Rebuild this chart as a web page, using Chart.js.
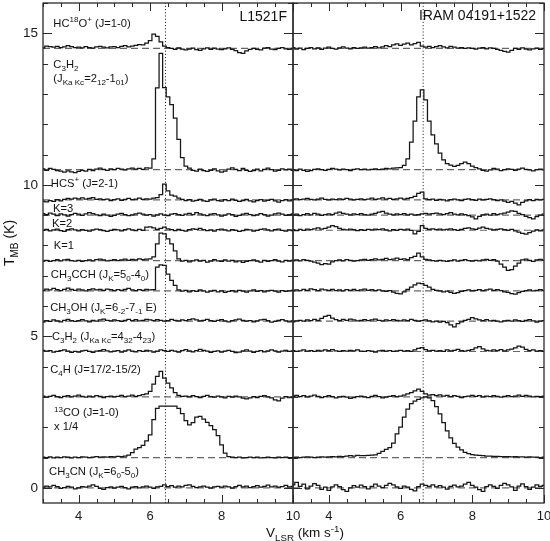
<!DOCTYPE html>
<html>
<head>
<meta charset="utf-8">
<script src="https://cdn.jsdelivr.net/npm/chart.js@4.4.1/dist/chart.umd.min.js"></script>
<style>
  html, body { margin: 0; padding: 0; background: #fff; }
  #wrap { position: relative; width: 550px; height: 541px; overflow: hidden; }
  canvas { position: absolute; top: 0; }
  #left { left: 0; }
  #right { left: 288px; }
</style>
</head>
<body>
<div id="wrap">
  <canvas id="left" width="360" height="541"></canvas>
  <canvas id="right" width="262" height="541"></canvas>
</div>
<script>
// channel velocities, km/s
const VEL = [
  3.0, 3.1, 3.2, 3.3, 3.4, 3.5, 3.6, 3.7, 3.8, 3.9,
  4.0, 4.1, 4.2, 4.3, 4.4, 4.5, 4.6, 4.7, 4.8, 4.9,
  5.0, 5.1, 5.2, 5.3, 5.4, 5.5, 5.6, 5.7, 5.8, 5.9,
  6.0, 6.1, 6.2, 6.3, 6.4, 6.5, 6.6, 6.7, 6.8, 6.9,
  7.0, 7.1, 7.2, 7.3, 7.4, 7.5, 7.6, 7.7, 7.8, 7.9,
  8.0, 8.1, 8.2, 8.3, 8.4, 8.5, 8.6, 8.7, 8.8, 8.9,
  9.0, 9.1, 9.2, 9.3, 9.4, 9.5, 9.6, 9.7, 9.8, 9.9,
  10.0
];

const LINES = ['HC18O+', 'C3H2 2-1', 'HCS+', 'CH3CCH K=3', 'CH3CCH K=2', 'CH3CCH K=1',
  'CH3CCH K=0', 'CH3OH', 'C3H2 4-4', 'C4H', '13CO x1/4', 'CH3CN'];
// baseline each spectrum is shifted to (K)
const OFFSETS = [14.5, 10.5, 9.5, 9.0, 8.5, 7.5, 6.5, 5.5, 4.5, 3.0, 1.0, 0];
const SOURCES = ['L1521F', 'IRAM 04191+1522'];
const VSYS = [6.43, 6.63];
const X_LABELED = [4, 6, 8, 10];
const Y_LABELED = [0, 5, 10, 15];

// ---- L1521F (T_MB above baseline, K) ----
const hc18o_L = [
  0.02, 0.08, 0.06, 0.04, 0.07, 0.03, 0.05, 0.09, 0.06, 0.03,
  0.04, 0.02, 0.06, 0.03, 0.01, 0.05, 0.07, 0.04, 0.02, 0.05,
  0.06, 0.03, 0.07, 0.09, 0.05, 0.08, 0.10, 0.13, 0.12, 0.18,
  0.26, 0.47, 0.40, 0.22, 0.08, 0.03, 0.00, -0.03, 0.02, -0.02,
  -0.05, -0.02, 0.01, -0.04, -0.06, -0.01, 0.02, -0.03, 0.01, -0.02,
  -0.04, -0.01, 0.02, -0.03, -0.07, -0.14, -0.16, -0.08, -0.03, 0.00,
  -0.03, -0.05, 0.01, 0.03, -0.02, -0.04, 0.00, 0.03, -0.01, -0.03,
  0.00];
const c3h2a_L = [
  0.03, -0.02, 0.04, 0.01, -0.03, -0.05, -0.08, -0.04, -0.07, -0.10,
  -0.06, -0.02, -0.05, 0.01, -0.03, 0.02, 0.05, 0.01, -0.02, 0.03,
  0.00, 0.04, 0.02, -0.01, 0.03, 0.05, 0.02, 0.04, 0.01, 0.06,
  0.05, 0.36, 2.70, 3.84, 2.71, 2.40, 2.15, 1.70, 1.00, 0.40,
  0.12, 0.05, -0.02, -0.05, 0.02, -0.03, -0.06, -0.02, 0.03, -0.04,
  -0.08, -0.05, 0.02, 0.06, 0.01, -0.03, 0.04, -0.02, -0.06, -0.03,
  0.02, -0.04, 0.01, 0.05, 0.00, -0.05, -0.02, 0.03, -0.01, 0.02,
  -0.02];
const hcs_L = [
  -0.04, -0.06, -0.02, -0.05, 0.01, -0.03, 0.02, 0.05, 0.03, 0.06,
  0.04, 0.07, 0.03, 0.05, 0.08, 0.02, 0.04, 0.01, 0.03, -0.02,
  0.01, 0.04, -0.01, 0.02, 0.05, 0.01, 0.03, 0.06, 0.02, 0.04,
  0.03, 0.06, 0.08, 0.18, 0.52, 0.30, 0.16, 0.13, 0.06, 0.02,
  -0.02, 0.01, -0.04, -0.01, 0.02, -0.03, -0.05, 0.00, 0.03, -0.02,
  -0.04, 0.01, -0.02, 0.03, -0.01, -0.05, -0.02, 0.02, -0.03, -0.06,
  -0.02, 0.01, -0.04, -0.01, 0.02, -0.03, -0.07, -0.02, 0.01, -0.03,
  0.00];
const k3_L = [
  0.05, 0.02, 0.07, 0.03, -0.02, 0.04, 0.01, -0.03, 0.02, 0.06,
  0.03, -0.01, 0.04, 0.08, 0.05, 0.01, -0.02, 0.03, 0.00, -0.04,
  -0.01, 0.03, 0.06, 0.02, -0.02, 0.01, 0.04, 0.07, 0.03, 0.00,
  0.02, -0.03, 0.01, 0.04, 0.00, -0.02, 0.03, 0.05, 0.02, -0.01,
  0.03, 0.06, 0.02, 0.08, 0.04, 0.01, -0.02, 0.03, 0.05, 0.01,
  -0.03, 0.00, 0.04, 0.02, -0.04, -0.01, 0.03, 0.06, 0.02, -0.02,
  0.01, 0.05, 0.02, -0.03, 0.00, 0.04, 0.07, 0.03, -0.01, 0.02,
  0.04];
const k2_L = [
  0.00, 0.03, -0.02, 0.01, 0.04, -0.01, -0.04, 0.02, 0.05, 0.01,
  -0.02, 0.02, 0.00, -0.03, 0.01, 0.04, 0.02, -0.01, -0.04, 0.00,
  0.03, 0.01, -0.02, 0.02, 0.05, 0.01, -0.01, 0.03, 0.00, 0.10,
  0.11, 0.08, 0.03, 0.06, 0.10, 0.05, 0.02, -0.01, 0.03, 0.00,
  -0.03, 0.02, 0.05, 0.03, 0.06, 0.02, -0.01, 0.01, -0.03, 0.02,
  0.04, 0.01, -0.02, 0.02, 0.00, -0.04, -0.01, 0.03, 0.01, -0.03,
  0.00, 0.03, 0.05, 0.01, -0.02, 0.02, 0.04, 0.00, -0.03, 0.01,
  -0.01];
const k1_L = [
  -0.02, 0.01, -0.03, 0.00, 0.03, -0.01, 0.02, 0.04, 0.00, -0.02,
  0.01, -0.03, 0.00, 0.02, -0.01, 0.03, 0.05, 0.02, -0.01, 0.01,
  0.03, 0.00, 0.02, 0.05, 0.01, 0.04, 0.02, 0.06, 0.03, 0.05,
  0.06, 0.12, 0.55, 0.91, 0.88, 0.72, 0.55, 0.32, 0.06, -0.02,
  0.01, -0.04, -0.01, 0.02, -0.02, 0.01, -0.05, -0.02, 0.03, -0.01,
  -0.03, 0.02, -0.02, 0.01, -0.04, -0.01, -0.06, -0.03, 0.00, 0.02,
  -0.02, -0.05, 0.01, -0.03, 0.00, 0.03, -0.02, -0.04, 0.01, -0.02,
  0.01];
const ch3cch_L = [
  0.02, 0.06, 0.03, 0.08, 0.04, 0.01, 0.05, 0.09, 0.05, 0.02,
  0.06, 0.03, 0.00, 0.04, 0.07, 0.03, 0.05, 0.02, 0.06, 0.04,
  0.01, 0.04, 0.02, 0.05, 0.08, 0.03, 0.01, 0.04, 0.02, 0.05,
  0.03, 0.04, 0.78, 0.86, 0.84, 0.55, 0.35, 0.18, 0.03, -0.01,
  0.02, -0.03, 0.01, -0.02, 0.03, 0.00, -0.04, -0.01, 0.02, -0.03,
  0.00, -0.05, -0.02, 0.01, -0.03, 0.02, -0.01, -0.04, 0.00, 0.03,
  -0.02, 0.01, -0.03, 0.00, 0.02, -0.01, -0.04, 0.01, -0.02, 0.00,
  0.02];
const ch3oh_L = [
  -0.03, 0.02, -0.01, 0.04, 0.01, -0.02, 0.03, 0.06, 0.02, -0.01,
  0.02, 0.05, 0.01, -0.02, 0.03, 0.00, 0.04, 0.07, 0.03, 0.01,
  0.04, 0.02, -0.01, 0.03, 0.06, 0.02, 0.05, 0.01, 0.03, 0.06,
  0.04, 0.02, 0.05, 0.03, 0.00, 0.02, 0.06, 0.03, 0.01, 0.04,
  0.02, 0.05, 0.08, 0.04, 0.01, 0.03, 0.06, 0.02, -0.01, 0.03,
  0.05, 0.01, -0.02, 0.02, 0.04, 0.07, 0.03, 0.00, 0.02, -0.02,
  0.01, 0.04, 0.06, 0.02, -0.03, -0.01, 0.03, 0.05, 0.01, -0.02,
  0.01];
const c3h2b_L = [
  0.04, 0.01, 0.03, -0.02, 0.00, 0.03, 0.05, 0.01, -0.03, 0.00,
  -0.02, 0.02, 0.04, 0.00, -0.03, 0.01, 0.03, 0.06, 0.02, -0.01,
  0.01, 0.03, -0.02, 0.02, 0.05, 0.01, -0.01, 0.03, 0.00, 0.04,
  0.02, -0.02, 0.01, 0.05, 0.03, 0.00, 0.04, 0.01, -0.02, 0.03,
  0.06, 0.02, -0.01, 0.03, 0.07, 0.04, 0.01, -0.03, 0.00, 0.02,
  -0.02, 0.01, 0.04, 0.00, -0.04, -0.02, 0.02, 0.05, 0.01, -0.03,
  0.00, 0.03, -0.01, 0.02, 0.05, 0.02, -0.02, 0.01, 0.04, 0.00,
  0.02];
const c4h_L = [
  0.03, -0.01, 0.02, 0.05, 0.01, -0.02, 0.02, 0.04, 0.00, 0.03,
  0.06, 0.02, -0.01, 0.03, 0.00, 0.04, 0.02, -0.02, 0.01, 0.03,
  0.00, 0.02, 0.05, 0.01, 0.03, 0.06, 0.02, 0.04, 0.08, 0.10,
  0.18, 0.42, 0.68, 0.84, 0.62, 0.46, 0.30, 0.14, 0.05, 0.02,
  0.03, 0.00, 0.04, 0.01, -0.02, 0.02, 0.05, 0.01, -0.01, 0.03,
  0.00, -0.03, 0.02, -0.01, 0.03, 0.00, -0.04, -0.06, -0.03, 0.01,
  -0.02, 0.02, 0.04, 0.00, -0.03, -0.10, -0.13, -0.04, 0.01, -0.02,
  0.00];
const co13_L = [
  0.01, 0.00, 0.02, -0.01, 0.01, 0.00, 0.02, 0.01, -0.01, 0.01,
  0.00, 0.02, 0.01, 0.00, 0.01, 0.03, 0.01, 0.02, 0.01, 0.03,
  0.02, 0.04, 0.03, 0.05, 0.08, 0.16, 0.28, 0.33, 0.40, 0.55,
  0.75, 1.25, 1.62, 1.70, 1.70, 1.70, 1.70, 1.70, 1.62, 1.45,
  1.22, 1.08, 1.15, 1.33, 1.36, 1.27, 1.16, 1.05, 0.92, 0.72,
  0.42, 0.15, 0.03, 0.01, 0.00, 0.01, -0.01, 0.00, 0.01, 0.00,
  0.01, -0.01, 0.00, 0.01, 0.00, -0.01, 0.01, 0.00, 0.01, 0.00,
  0.00];
const ch3cn_L = [
  0.02, 0.06, 0.03, 0.08, 0.04, -0.02, 0.01, 0.05, 0.02, -0.03,
  0.00, 0.04, 0.02, 0.06, 0.10, 0.05, -0.02, -0.05, 0.01, 0.03,
  -0.01, 0.02, 0.05, 0.01, -0.03, 0.02, 0.04, 0.00, 0.03, 0.06,
  0.02, -0.02, 0.03, 0.05, 0.10, 0.04, 0.07, 0.02, 0.06, 0.03,
  0.08, 0.10, 0.05, 0.01, 0.03, 0.06, 0.02, -0.01, 0.03, 0.05,
  0.02, 0.06, 0.03, -0.01, 0.04, 0.08, 0.03, 0.06, 0.01, 0.04,
  0.07, 0.02, 0.05, 0.09, 0.03, 0.06, 0.02, 0.04, 0.08, 0.03,
  0.05];

// ---- IRAM 04191+1522 ----
const hc18o_R = [
  0.03, -0.02, 0.01, -0.04, 0.00, 0.03, -0.01, 0.02, -0.03, 0.01,
  0.04, 0.00, -0.02, 0.02, 0.05, 0.01, -0.01, 0.03, 0.00, 0.02,
  0.04, 0.01, 0.03, 0.06, 0.02, 0.05, 0.09, 0.06, 0.12, 0.15,
  0.10, 0.14, 0.18, 0.12, 0.16, 0.20, 0.08, 0.04, 0.07, 0.03,
  0.06, 0.09, 0.05, 0.02, 0.07, 0.04, 0.01, 0.03, 0.00, 0.02,
  0.00, -0.02, 0.01, 0.03, -0.01, 0.02, 0.00, -0.03, -0.06, -0.10,
  -0.12, -0.06, 0.00, -0.03, 0.02, -0.02, -0.05, -0.01, 0.01, -0.03,
  0.00];
const c3h2a_R = [
  0.00, -0.03, 0.02, -0.02, -0.06, -0.03, 0.01, 0.03, 0.00, -0.02,
  0.01, 0.04, 0.02, -0.01, 0.02, 0.00, -0.03, 0.01, 0.03, 0.00,
  0.02, -0.01, 0.01, 0.03, 0.00, 0.02, 0.04, 0.03, 0.05, 0.06,
  0.07, 0.14, 0.36, 0.91, 1.60, 2.40, 2.63, 2.30, 1.60, 1.15,
  0.85, 0.55, 0.32, 0.20, 0.15, 0.11, 0.14, 0.20, 0.25, 0.20,
  0.12, 0.07, 0.03, -0.02, -0.05, -0.01, 0.04, 0.02, -0.03, 0.00,
  0.03, 0.01, -0.02, 0.02, 0.05, 0.01, -0.01, -0.04, 0.00, 0.02,
  -0.01];
const hcs_R = [
  0.02, 0.04, 0.01, 0.03, 0.05, 0.02, 0.00, 0.03, 0.06, 0.02,
  0.00, 0.03, 0.01, 0.04, 0.02, 0.05, 0.03, 0.00, 0.02, 0.04,
  0.01, 0.03, 0.06, 0.02, 0.04, 0.07, 0.03, 0.05, 0.02, 0.04,
  0.06, 0.03, 0.05, 0.08, 0.12, 0.22, 0.26, 0.04, 0.01, 0.03,
  -0.01, 0.02, 0.00, -0.03, 0.01, 0.03, 0.00, -0.02, 0.02, 0.04,
  0.01, -0.01, 0.03, 0.00, 0.02, 0.04, 0.01, -0.02, 0.00, -0.04,
  -0.08, -0.05, -0.10, -0.16, -0.08, -0.03, 0.01, -0.02, 0.02, 0.00,
  0.02];
const k3_R = [
  0.00, 0.03, -0.02, 0.02, 0.05, 0.01, 0.06, 0.03, -0.01, 0.02,
  0.04, 0.02, 0.07, 0.10, 0.06, 0.03, 0.01, 0.04, 0.02, 0.05,
  0.02, 0.00, 0.03, 0.06, 0.10, 0.12, 0.07, 0.03, 0.01, 0.04,
  0.02, 0.05, 0.01, 0.03, 0.00, 0.02, 0.04, 0.06, 0.03, 0.05,
  0.07, 0.04, 0.02, 0.05, 0.08, 0.03, 0.01, 0.04, 0.02, -0.02,
  -0.06, -0.12, -0.04, 0.01, 0.03, 0.00, 0.05, 0.02, 0.04, 0.07,
  0.10, 0.14, 0.12, 0.06, 0.02, -0.04, -0.08, -0.12, -0.05, 0.00,
  0.03];
const k2_R = [
  0.02, -0.01, 0.03, 0.00, 0.04, 0.02, 0.05, 0.08, 0.04, 0.06,
  0.10, 0.15, 0.12, 0.06, 0.03, 0.01, 0.04, 0.02, -0.01, 0.02,
  0.00, 0.03, 0.01, 0.04, 0.02, 0.05, 0.01, -0.02, 0.02, 0.00,
  0.03, 0.01, 0.04, 0.00, -0.12, -0.04, 0.15, 0.06, 0.03, 0.05,
  0.02, 0.04, 0.01, 0.03, 0.05, 0.02, 0.00, 0.03, 0.06, 0.08,
  0.05, 0.03, 0.07, 0.10, 0.06, 0.04, 0.01, 0.03, 0.05, 0.02,
  0.00, 0.03, -0.02, -0.06, -0.10, -0.13, -0.08, -0.03, 0.01, -0.02,
  0.01];
const k1_R = [
  0.00, 0.02, -0.01, 0.03, 0.01, -0.02, -0.05, -0.08, -0.13, -0.10,
  -0.12, -0.04, 0.00, 0.02, -0.01, 0.03, 0.01, -0.02, 0.00, 0.02,
  0.04, 0.01, 0.03, 0.06, 0.02, 0.04, 0.07, 0.03, 0.05, 0.08,
  0.04, 0.06, 0.03, 0.10, 0.14, 0.25, 0.12, 0.04, 0.02, 0.00,
  -0.02, 0.01, -0.01, -0.03, 0.00, 0.02, -0.02, 0.01, 0.03, 0.00,
  -0.02, 0.01, -0.01, 0.02, 0.04, 0.01, 0.03, -0.02, -0.12, -0.22,
  -0.32, -0.30, -0.18, -0.08, 0.02, 0.05, 0.01, -0.03, 0.02, 0.04,
  0.01];
const ch3cch_R = [
  0.00, 0.03, 0.01, 0.05, 0.02, 0.07, 0.04, 0.01, 0.06, 0.03,
  0.02, 0.05, 0.01, 0.03, 0.00, 0.04, 0.02, 0.05, 0.01, 0.03,
  0.06, 0.02, 0.04, 0.01, 0.03, 0.00, -0.02, 0.01, -0.04, -0.08,
  -0.10, -0.03, 0.05, 0.12, 0.20, 0.26, 0.24, 0.18, 0.12, 0.05,
  0.02, 0.00, -0.03, -0.01, -0.05, -0.08, -0.06, -0.02, 0.01, 0.03,
  0.00, 0.02, 0.04, 0.01, 0.03, 0.06, 0.02, 0.04, 0.01, -0.03,
  -0.05, -0.09, -0.11, -0.06, -0.02, 0.01, 0.03, 0.00, 0.02, 0.04,
  0.01];
const ch3oh_R = [
  -0.02, 0.01, 0.03, 0.00, 0.04, 0.02, 0.06, 0.03, 0.09, 0.16,
  0.19, 0.10, 0.05, 0.02, 0.06, 0.03, 0.07, 0.04, 0.01, 0.03,
  0.05, 0.02, 0.04, 0.07, 0.03, 0.01, 0.04, 0.02, 0.05, 0.03,
  0.01, 0.04, 0.02, 0.06, 0.03, 0.00, 0.02, 0.04, 0.01, -0.02,
  0.00, -0.03, -0.01, -0.05, -0.12, -0.19, -0.08, -0.02, 0.03, 0.06,
  0.12, 0.08, 0.04, 0.02, 0.05, 0.01, 0.03, 0.00, -0.02, 0.01,
  0.03, 0.00, 0.04, 0.02, -0.01, 0.03, 0.05, 0.01, -0.03, 0.00,
  0.02];
const c3h2b_R = [
  0.03, 0.00, 0.02, 0.05, 0.01, 0.03, 0.00, 0.04, 0.02, 0.05,
  0.03, 0.06, 0.02, 0.00, 0.03, 0.01, 0.04, 0.02, 0.05, 0.01,
  0.00, 0.03, 0.01, -0.02, 0.02, 0.04, 0.01, 0.03, 0.00, 0.02,
  0.04, 0.01, 0.03, 0.00, 0.05, 0.10, 0.13, 0.06, 0.02, 0.04,
  0.01, 0.03, 0.00, 0.05, 0.02, 0.04, 0.07, 0.03, 0.01, 0.04,
  0.06, 0.12, 0.16, 0.09, 0.04, 0.02, 0.05, 0.03, 0.06, 0.02,
  0.05, 0.08, 0.12, 0.18, 0.14, 0.07, 0.03, 0.05, 0.01, 0.03,
  0.00];
const c4h_R = [
  0.02, 0.05, 0.01, 0.04, 0.00, 0.03, 0.06, 0.02, -0.02, 0.01,
  0.04, 0.01, -0.03, 0.00, 0.02, -0.01, -0.05, -0.02, 0.01, 0.03,
  0.00, -0.02, 0.02, 0.05, 0.01, -0.03, -0.01, 0.02, 0.04, 0.01,
  0.03, 0.06, 0.10, 0.14, 0.20, 0.26, 0.18, 0.10, 0.06, 0.08,
  0.04, 0.07, 0.03, 0.05, 0.01, 0.04, 0.02, -0.02, 0.01, 0.03,
  0.05, 0.02, 0.04, 0.00, 0.03, 0.01, 0.04, 0.02, -0.01, 0.02,
  0.04, 0.01, 0.03, 0.06, 0.02, 0.05, 0.03, 0.00, 0.02, 0.01,
  0.03];
const co13_R = [
  0.00, 0.01, 0.00, 0.01, 0.02, 0.01, 0.00, 0.01, 0.02, 0.01,
  0.02, 0.03, 0.02, 0.04, 0.03, 0.05, 0.06, 0.05, 0.07, 0.06,
  0.06, 0.07, 0.08, 0.09, 0.14, 0.20, 0.27, 0.33, 0.48, 0.78,
  1.00, 1.33, 1.60, 1.78, 1.86, 1.92, 1.97, 2.00, 1.97, 1.88,
  1.68, 1.44, 1.15, 0.88, 0.65, 0.47, 0.34, 0.25, 0.17, 0.13,
  0.10, 0.08, 0.07, 0.06, 0.05, 0.05, 0.04, 0.04, 0.03, 0.03,
  0.03, 0.02, 0.03, 0.02, 0.02, 0.01, 0.02, 0.01, 0.01, 0.00,
  0.01];
const ch3cn_R = [
  0.10, 0.18, 0.05, 0.12, -0.03, 0.06, 0.14, 0.08, -0.05, 0.02,
  -0.08, 0.03, 0.10, 0.04, -0.06, -0.12, 0.00, 0.07, 0.02, 0.09,
  0.04, -0.03, 0.05, 0.12, 0.06, 0.01, 0.08, 0.15, 0.10, 0.03,
  -0.02, 0.06, 0.02, -0.05, -0.10, 0.04, 0.12, 0.08, 0.05, 0.10,
  0.03, 0.07, 0.02, -0.04, 0.05, 0.09, 0.03, 0.06, 0.12, 0.18,
  0.08, 0.02, -0.06, -0.12, 0.04, 0.10, 0.05, -0.02, 0.08, 0.15,
  0.10, 0.03, -0.08, 0.06, 0.13, 0.04, -0.05, 0.02, 0.10, 0.05,
  0.08];

const SPECTRA = [
  [hc18o_L, c3h2a_L, hcs_L, k3_L, k2_L, k1_L, ch3cch_L, ch3oh_L, c3h2b_L, c4h_L, co13_L, ch3cn_L],
  [hc18o_R, c3h2a_R, hcs_R, k3_R, k2_R, k1_R, ch3cch_R, ch3oh_R, c3h2b_R, c4h_R, co13_R, ch3cn_R]
];

// line labels, placed in data coordinates (km/s, K)
const LEFT_LABELS = [
  { text: 'HC^{18}O^{+} (J=1-0)', v: 3.29, t: 15.21 },
  { text: 'C_{3}H_{2}', v: 3.29, t: 13.85 },
  { text: '(J_{Ka Kc}=2_{12}-1_{01})', v: 3.29, t: 13.39 },
  { text: 'HCS^{+} (J=2-1)', v: 3.22, t: 9.93 },
  { text: 'K=3', v: 3.28, t: 9.10 },
  { text: 'K=2', v: 3.25, t: 8.61 },
  { text: 'K=1', v: 3.3, t: 7.88 },
  { text: 'CH_{3}CCH (J_{K}=5_{0}-4_{0})', v: 3.22, t: 6.93 },
  { text: 'CH_{3}OH (J_{K}=6_{-2}-7_{-1} E)', v: 3.2, t: 5.84 },
  { text: 'C_{3}H_{2} (J_{Ka Kc}=4_{32}-4_{23})', v: 3.25, t: 4.88 },
  { text: 'C_{4}H (J=17/2-15/2)', v: 3.2, t: 3.79 },
  { text: '^{13}CO (J=1-0)', v: 3.31, t: 2.37 },
  { text: 'x 1/4', v: 3.31, t: 1.91 },
  { text: 'CH_{3}CN (J_{K}=6_{0}-5_{0})', v: 3.17, t: 0.42 }
];

const FONT = '"Liberation Sans", Arial, Helvetica, sans-serif';
Chart.defaults.font.family = FONT;
Chart.defaults.color = '#1a1a1a';

// text with _{sub} and ^{sup} pieces
function drawRich(ctx, str, x, y, size, align) {
  const parts = [];
  str.replace(/([_^])\{([^}]*)\}|([^_^]+)/g, (m, k, s, n) => {
    parts.push(n !== undefined ? { t: n, k: '' } : { t: s, k: k });
    return m;
  });
  let w = 0;
  parts.forEach(p => {
    p.size = p.k ? size * 0.72 : size;
    ctx.font = p.size + 'px ' + FONT;
    p.w = ctx.measureText(p.t).width;
    w += p.w;
  });
  let cx = align === 'right' ? x - w : align === 'center' ? x - w / 2 : x;
  ctx.textAlign = 'left';
  ctx.textBaseline = 'alphabetic';
  parts.forEach(p => {
    ctx.font = p.size + 'px ' + FONT;
    const dy = p.k === '_' ? size * 0.26 : p.k === '^' ? -size * 0.4 : 0;
    ctx.fillText(p.t, cx, y + dy);
    cx += p.w;
  });
}

const isTick = (v, list) => {
  const r = Math.round(v);
  return Math.abs(v - r) < 1e-6 && list.includes(r);
};

const framePlugin = {
  id: 'frame',
  afterDraw(chart, args, opts) {
    const { ctx, chartArea: a, scales: { x, y } } = chart;
    ctx.save();
    ctx.strokeStyle = '#2a2a2a';
    ctx.lineWidth = 1.3;
    ctx.strokeRect(a.left, a.top, a.right - a.left, a.bottom - a.top);

    // inward tick marks on all four sides
    ctx.lineWidth = 1;
    ctx.beginPath();
    x.ticks.forEach(t => {
      const px = Math.round(x.getPixelForValue(t.value)) + 0.5;
      const len = isTick(t.value, X_LABELED) ? 8 : 4;
      ctx.moveTo(px, a.bottom); ctx.lineTo(px, a.bottom - len);
      ctx.moveTo(px, a.top); ctx.lineTo(px, a.top + len);
    });
    y.ticks.forEach(t => {
      if (Math.abs(t.value - Math.round(t.value)) > 1e-6) return;
      const py = Math.round(y.getPixelForValue(t.value)) + 0.5;
      const len = isTick(t.value, Y_LABELED) ? 9 : 5;
      ctx.moveTo(a.left, py); ctx.lineTo(a.left + len, py);
      ctx.moveTo(a.right, py); ctx.lineTo(a.right - len, py);
    });
    ctx.stroke();

    ctx.fillStyle = '#111';
    (opts.labels || []).forEach(l => {
      drawRich(ctx, l.text, x.getPixelForValue(l.v), y.getPixelForValue(l.t), l.size || 11.2, l.align || 'left');
    });
    if (opts.axisTitles) {
      drawRich(ctx, 'V_{LSR} (km s^{-1})', a.right + 12, 537, 13.5, 'center');
      ctx.save();
      ctx.translate(a.left - 29, (a.top + a.bottom) / 2 - 10);
      ctx.rotate(-Math.PI / 2);
      drawRich(ctx, 'T_{MB} (K)', 0, 0, 14, 'center');
      ctx.restore();
    }
    ctx.restore();
  }
};

function makeChart(id, panel) {
  const datasets = [];
  SPECTRA[panel].forEach((vals, i) => {
    datasets.push({
      label: LINES[i],
      data: VEL.map((v, k) => ({ x: v, y: OFFSETS[i] + vals[k] })),
      stepped: 'middle',
      borderColor: '#151515',
      borderWidth: 1.25,
      pointRadius: 0,
      fill: false
    });
  });
  OFFSETS.forEach(off => {
    datasets.push({
      data: [{ x: 3, y: off }, { x: 10, y: off }],
      borderColor: '#666',
      borderWidth: 1.2,
      borderDash: [7, 4],
      pointRadius: 0
    });
  });
  datasets.push({
    data: [{ x: VSYS[panel], y: -0.5 }, { x: VSYS[panel], y: 16 }],
    borderColor: '#333',
    borderWidth: 1,
    borderDash: [1.2, 2],
    pointRadius: 0
  });

  const isLeft = panel === 0;
  const labels = isLeft
    ? LEFT_LABELS.concat([{ text: SOURCES[0], v: 9.83, t: 15.41, size: 14, align: 'right' }])
    : [{ text: SOURCES[1], v: 9.78, t: 15.44, size: 14, align: 'right' }];

  return new Chart(document.getElementById(id), {
    type: 'line',
    data: { datasets },
    options: {
      responsive: false,
      animation: false,
      events: [],
      layout: { padding: isLeft ? { left: 0, top: 3, right: 67, bottom: 0 } : { left: 5, top: 3, right: 6, bottom: 0 } },
      plugins: {
        legend: { display: false },
        tooltip: { enabled: false },
        frame: { labels, axisTitles: isLeft }
      },
      scales: {
        x: {
          type: 'linear',
          min: 3, max: 10,
          grid: { display: false, drawTicks: false },
          border: { display: false },
          ticks: {
            stepSize: 0.5,
            autoSkip: false,
            includeBounds: false,
            maxRotation: 0,
            padding: 6,
            font: { size: 13 },
            callback: v => (isTick(v, X_LABELED) ? String(Math.round(v)) : '')
          },
          afterFit: s => { s.height = 38; s.paddingLeft = 0; s.paddingRight = 0; }
        },
        y: {
          type: 'linear',
          display: isLeft,
          min: -0.5, max: 16,
          grid: { display: false, drawTicks: false },
          border: { display: false },
          ticks: {
            stepSize: 1,
            autoSkip: false,
            includeBounds: false,
            padding: 5,
            font: { size: 13.5 },
            callback: v => (isTick(v, Y_LABELED) ? String(Math.round(v)) : '')
          },
          afterFit: s => { if (isLeft) s.width = 43; s.paddingTop = 0; s.paddingBottom = 0; }
        }
      }
    },
    plugins: [framePlugin]
  });
}

makeChart('left', 0);
makeChart('right', 1);
</script>
</body>
</html>
